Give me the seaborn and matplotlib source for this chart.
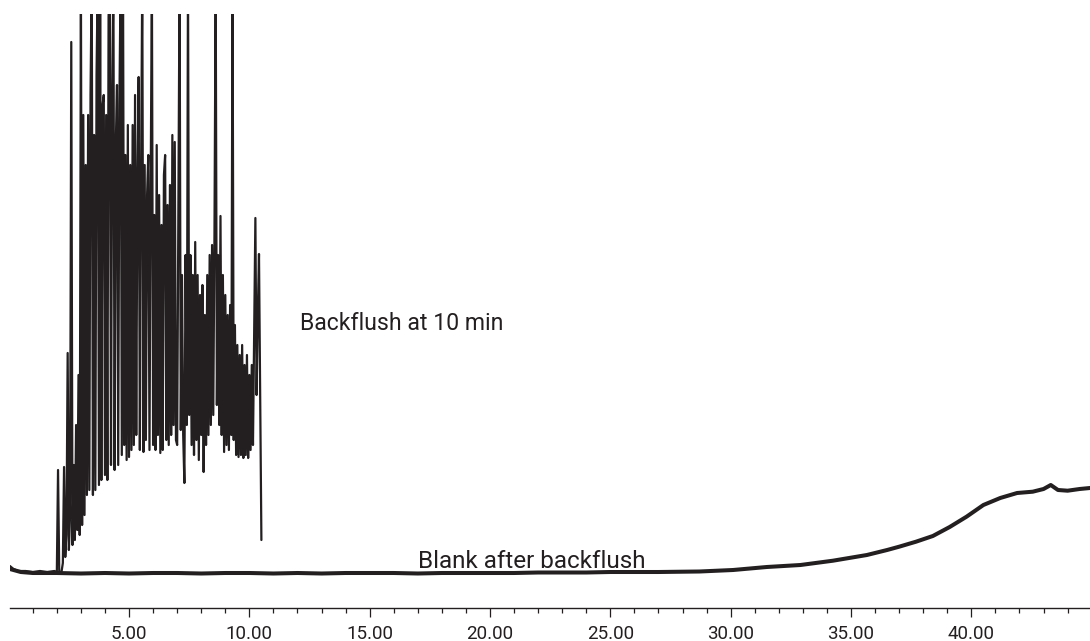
import numpy as np
import pandas as pd
import matplotlib
matplotlib.use("Agg")
import matplotlib.pyplot as plt
from matplotlib.ticker import MultipleLocator
import seaborn as sns

# ---------------- data ----------------
# Backflush run: flat part before the matrix elutes (min, abundance units)
pre_time = [0.05, 0.2, 0.4, 0.7, 1.0, 1.3, 1.6, 1.9]
pre_abund = [9, 6, 4, 4, 3, 4, 3, 4]

# Backflush run: dense part, sampled every 0.05 min from 2.00 to 10.50 min
dense_start, dense_end = 2.0, 10.5
dense_abund = [
    3, 105, 3, 2, 4, 12, 108, 18, 40, 222,
    25, 60, 533, 30, 110, 35, 150, 45, 200, 40,
    600, 50, 460, 60, 410, 80, 460, 85, 480, 600,
    80, 440, 85, 500, 600, 90, 600, 95, 470, 480,
    100, 460, 95, 558, 600, 110, 480, 600, 105, 430,
    490, 110, 470, 600, 120, 600, 130, 420, 115, 450,
    118, 410, 125, 450, 130, 480, 140, 400, 498, 125,
    400, 600, 123, 410, 135, 380, 420, 125, 390, 600,
    130, 360, 125, 430, 140, 380, 122, 350, 125, 400,
    420, 135, 370, 130, 390, 140, 440, 150, 433, 135,
    130, 360, 600, 145, 300, 140, 92, 320, 150, 600,
    160, 320, 130, 300, 120, 333, 135, 300, 115, 280,
    140, 290, 103, 260, 130, 300, 140, 320, 150, 330,
    160, 340, 600, 170, 320, 150, 359, 140, 300, 123,
    280, 130, 260, 125, 270, 140, 600, 135, 250, 120,
    230, 118, 220, 120, 230, 117, 210, 120, 220, 117,
    200, 125, 210, 130, 240, 357, 180, 260, 321, 180, 35,
]

# Blank after backflush
blank_time = [0.05, 0.5, 1, 2, 3, 4, 5, 6, 7, 8, 9, 10, 11, 12, 13, 14, 15,
              16, 17, 18, 19, 20, 21, 22, 23, 24, 25, 26, 27, 28,
              28.7, 30.1, 31.5, 32.9, 34.25, 35.66, 36.5, 37.0, 37.7, 38.4,
              39.1, 39.8, 40.5, 41.2, 41.9, 42.55, 43.0, 43.3, 43.6, 44.0,
              44.5, 44.93]
blank_abund = [6, 3, 2, 2, 1.5, 2, 1.5, 2, 2, 1.5, 2, 2, 1.5, 2, 1.5, 2, 2,
               2, 1.5, 2, 2, 2, 2, 2.5, 2.5, 2.5, 3, 3, 3, 3.3,
               3.5, 5, 8, 10, 14.3, 20, 25, 28.3, 33.3, 39,
               48, 58.3, 70, 77, 82, 83.3, 86, 90, 85, 84.3,
               86, 87]

major_ticks = [5, 10, 15, 20, 25, 30, 35, 40]
major_labels = ["5.00", "10.00", "15.00", "20.00", "25.00", "30.00", "35.00", "40.00"]

label_backflush = "Backflush at 10 min"
label_blank = "Blank after backflush"

# ---------------- build frames ----------------
dense_time = np.linspace(dense_start, dense_end, len(dense_abund))
bf = pd.DataFrame({
    "time": np.concatenate([pre_time, dense_time]),
    "abund": np.concatenate([pre_abund, dense_abund]),
})
bl = pd.DataFrame({"time": blank_time, "abund": blank_abund})

# ---------------- plot ----------------
sns.set_theme(style="white")
plt.rcParams["font.family"] = ["Roboto", "DejaVu Sans"]

ink = "#231f20"
W, H = 1090, 641
fig = plt.figure(figsize=(W / 100, H / 100), dpi=100)
ax = fig.add_axes([10 / W, 33 / H, 1080 / W, 594 / H])

sns.lineplot(data=bl, x="time", y="abund", ax=ax, color=ink, lw=2.9,
             estimator=None, sort=False)
sns.lineplot(data=bf, x="time", y="abund", ax=ax, color=ink, lw=1.6,
             estimator=None, sort=False)

ax.set_xlim(0.054, 44.93)
ax.set_ylim(-33, 561)

ax.text(12.1, 251, label_backflush, fontsize=16.6, color=ink,
        ha="left", va="center")
ax.text(21.75, 14, label_blank, fontsize=17.5, color=ink,
        ha="center", va="center")

for s in ["top", "right", "left"]:
    ax.spines[s].set_visible(False)
ax.spines["bottom"].set_color(ink)
ax.spines["bottom"].set_linewidth(1.0)

ax.set_yticks([])
ax.set_xticks(major_ticks)
ax.set_xticklabels(major_labels, fontsize=13.5)
ax.xaxis.set_minor_locator(MultipleLocator(1))
ax.tick_params(axis="x", which="major", direction="out", length=6.5,
               width=0.9, color=ink, labelcolor=ink, pad=5.5, bottom=True)
ax.tick_params(axis="x", which="minor", direction="out", length=3.8,
               width=0.9, color=ink, bottom=True)
ax.set_xlabel("")
ax.set_ylabel("")

fig.savefig("out.png", dpi=100)
